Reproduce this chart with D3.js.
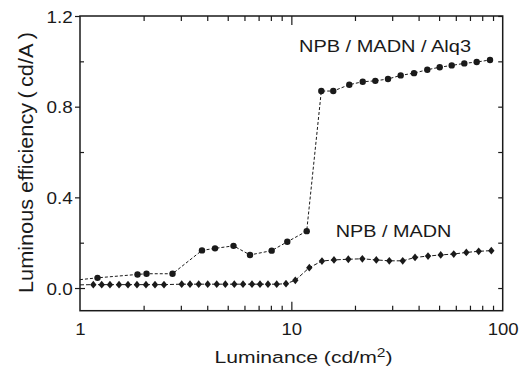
<!DOCTYPE html>
<html>
<head>
<meta charset="utf-8">
<script src="https://cdn.jsdelivr.net/npm/d3@7"></script>
<style>
  html, body { margin: 0; padding: 0; background: #fff; }
  svg { display: block; font-family: "Liberation Sans", Arial, sans-serif; }
</style>
</head>
<body>
<svg id="chart" width="528" height="367"></svg>
<script>
// Luminance (cd/m2) and luminous efficiency (cd/A) for the two devices
const alqLum = [1.0, 1.21, 1.871, 2.064, 2.74, 3.777, 4.353, 5.325, 6.373, 8.072, 9.568, 11.82,
  13.86, 15.79, 18.8, 21.76, 24.96, 28.66, 32.91, 38.05, 43.98, 50.34, 57.37, 65.81, 75.34, 87.1];
const alqEff = [0.037, 0.045, 0.060, 0.063, 0.063, 0.166, 0.175, 0.186, 0.146, 0.165, 0.204, 0.251,
  0.869, 0.869, 0.897, 0.910, 0.914, 0.922, 0.938, 0.948, 0.963, 0.974, 0.982, 0.991, 0.997, 1.006];

const madnLum = [1.0, 1.156, 1.267, 1.386, 1.53, 1.687, 1.86, 2.052, 2.264, 2.497, 3.028, 3.315, 3.644,
  4.02, 4.435, 4.871, 5.372, 5.906, 6.514, 7.107, 7.752, 8.524, 9.434, 10.44, 12.16, 13.96, 15.91,
  18.6, 21.67, 25.23, 29.07, 33.65, 38.47, 44.33, 50.9, 58.66, 67.27, 76.98, 88.35];
const madnEff = [0.014, 0.015, 0.015, 0.015, 0.015, 0.015, 0.015, 0.015, 0.015, 0.015, 0.017, 0.017, 0.017,
  0.017, 0.017, 0.017, 0.017, 0.017, 0.017, 0.017, 0.017, 0.017, 0.019, 0.034, 0.090, 0.119, 0.124,
  0.127, 0.129, 0.124, 0.120, 0.120, 0.135, 0.141, 0.146, 0.150, 0.157, 0.162, 0.165];

const xMajor = [1, 10, 100];
const xMajorLabels = ["1", "10", "100"];
const xMinor = [2, 3, 4, 5, 6, 7, 8, 9, 20, 30, 40, 50, 60, 70, 80, 90];
const yMajor = [0.0, 0.4, 0.8, 1.2];
const yMajorLabels = ["0.0", "0.4", "0.8", "1.2"];
const yMinor = [0.2, 0.6, 1.0];
const yAll = [0.0, 0.2, 0.4, 0.6, 0.8, 1.0, 1.2];

const ink = "#1a1a1a";
const svg = d3.select("#chart");
const pLeft = 80, pRight = 502.7, pTop = 16, pBottom = 310.7;

const x = d3.scaleLog().domain([1, 100]).range([pLeft, pRight]);
const y = d3.scaleLinear().domain([-0.1, 1.2]).range([pBottom, pTop]);

// stretch helper: widen text horizontally by a factor
function widen(sel, k) {
  sel.each(function () {
    const w = this.getComputedTextLength();
    d3.select(this).attr("textLength", w * k).attr("lengthAdjust", "spacingAndGlyphs");
  });
}

svg.append("defs").append("clipPath").attr("id", "plot")
  .append("rect").attr("x", pLeft).attr("y", pTop).attr("width", pRight - pLeft).attr("height", pBottom - pTop);

const g = svg.append("g");

// bottom axis: inward ticks
g.append("g").attr("transform", `translate(0,${pBottom})`)
  .call(d3.axisBottom(x).tickValues(xMinor).tickSize(-5).tickFormat(""))
  .call(a => a.select(".domain").remove());
g.append("g").attr("transform", `translate(0,${pBottom})`)
  .call(d3.axisBottom(x).tickValues([10]).tickSize(-9).tickFormat(""))
  .call(a => a.select(".domain").remove());

// top axis: inward ticks
g.append("g").attr("transform", `translate(0,${pTop})`)
  .call(d3.axisTop(x).tickValues(xMinor).tickSize(-5).tickFormat(""))
  .call(a => a.select(".domain").remove());
g.append("g").attr("transform", `translate(0,${pTop})`)
  .call(d3.axisTop(x).tickValues([10]).tickSize(-9).tickFormat(""))
  .call(a => a.select(".domain").remove());

// left axis: outward major ticks, inward minor ticks
g.append("g").attr("transform", `translate(${pLeft},0)`)
  .call(d3.axisLeft(y).tickValues(yMajor).tickSize(5).tickFormat(""))
  .call(a => a.select(".domain").remove());
g.append("g").attr("transform", `translate(${pLeft},0)`)
  .call(d3.axisLeft(y).tickValues(yMinor).tickSize(-4).tickFormat(""))
  .call(a => a.select(".domain").remove());
g.append("g").attr("transform", `translate(${pLeft},0)`)
  .call(d3.axisLeft(y).tickValues([0.0]).tickSize(-5).tickFormat(""))
  .call(a => a.select(".domain").remove());

// right axis: inward ticks
g.append("g").attr("transform", `translate(${pRight},0)`)
  .call(d3.axisRight(y).tickValues(yAll).tickSize(-4.5).tickFormat(""))
  .call(a => a.select(".domain").remove());

g.selectAll(".tick line").attr("stroke", ink).attr("stroke-width", 1.2);

// frame
g.append("rect").attr("x", pLeft).attr("y", pTop).attr("width", pRight - pLeft).attr("height", pBottom - pTop)
  .attr("fill", "none").attr("stroke", ink).attr("stroke-width", 1.5);

// tick labels
const yl = svg.append("g").attr("font-size", 16).attr("fill", ink).attr("text-anchor", "end");
yl.selectAll("text").data(yMajor).join("text")
  .attr("x", 72.7).attr("y", d => y(d) + 6.5)
  .text((d, i) => yMajorLabels[i]).call(widen, 1.18);

const xl = svg.append("g").attr("font-size", 16).attr("fill", ink).attr("text-anchor", "middle");
xl.selectAll("text").data(xMajor).join("text")
  .attr("x", d => x(d) + 0.5).attr("y", 335)
  .text((d, i) => xMajorLabels[i]).call(widen, 1.16);

// axis titles
const xt = svg.append("text").attr("x", 303.5).attr("y", 362.5).attr("text-anchor", "middle")
  .attr("font-size", 16.3).attr("fill", ink);
xt.append("tspan").text("Luminance (cd/m");
xt.append("tspan").attr("dy", -6).attr("font-size", 12).text("2");
xt.append("tspan").attr("dy", 6).text(")");
xt.attr("textLength", 178).attr("lengthAdjust", "spacingAndGlyphs");

svg.append("text").attr("transform", "translate(32.5,162.5) rotate(-90)")
  .attr("text-anchor", "middle").attr("font-size", 19.5).attr("fill", ink)
  .attr("textLength", 261).attr("lengthAdjust", "spacingAndGlyphs")
  .text("Luminous efficiency\u2009(\u2009cd/A\u2009)");

// series
const plot = svg.append("g").attr("clip-path", "url(#plot)");
const line = d3.line().x(d => x(d[0])).y(d => y(d[1]));

const alq = alqLum.map((l, i) => [l, alqEff[i]]);
const madn = madnLum.map((l, i) => [l, madnEff[i]]);

plot.append("path").datum(madn).attr("d", line).attr("fill", "none")
  .attr("stroke", ink).attr("stroke-width", 1).attr("stroke-dasharray", "4,2");
plot.append("path").datum(alq).attr("d", line).attr("fill", "none")
  .attr("stroke", ink).attr("stroke-width", 1).attr("stroke-dasharray", "3,2");

// markers (the axis-start point carries none)
plot.selectAll("circle.alq").data(alq.slice(1)).join("circle").attr("class", "alq")
  .attr("cx", d => x(d[0])).attr("cy", d => y(d[1])).attr("r", 3.2).attr("fill", ink);

const diamond = "M0,-3.9L3.2,0L0,3.9L-3.2,0Z";
plot.selectAll("path.madn").data(madn.slice(1)).join("path").attr("class", "madn")
  .attr("d", diamond).attr("transform", d => `translate(${x(d[0])},${y(d[1])})`).attr("fill", ink);

// series labels
svg.append("text").attr("x", 385).attr("y", 51.7).attr("text-anchor", "middle")
  .attr("font-size", 17.2).attr("fill", ink)
  .attr("textLength", 172).attr("lengthAdjust", "spacingAndGlyphs")
  .text("NPB / MADN / Alq3");
svg.append("text").attr("x", 393.5).attr("y", 237.3).attr("text-anchor", "middle")
  .attr("font-size", 17.2).attr("fill", ink)
  .attr("textLength", 115.7).attr("lengthAdjust", "spacingAndGlyphs")
  .text("NPB / MADN");
</script>
</body>
</html>
